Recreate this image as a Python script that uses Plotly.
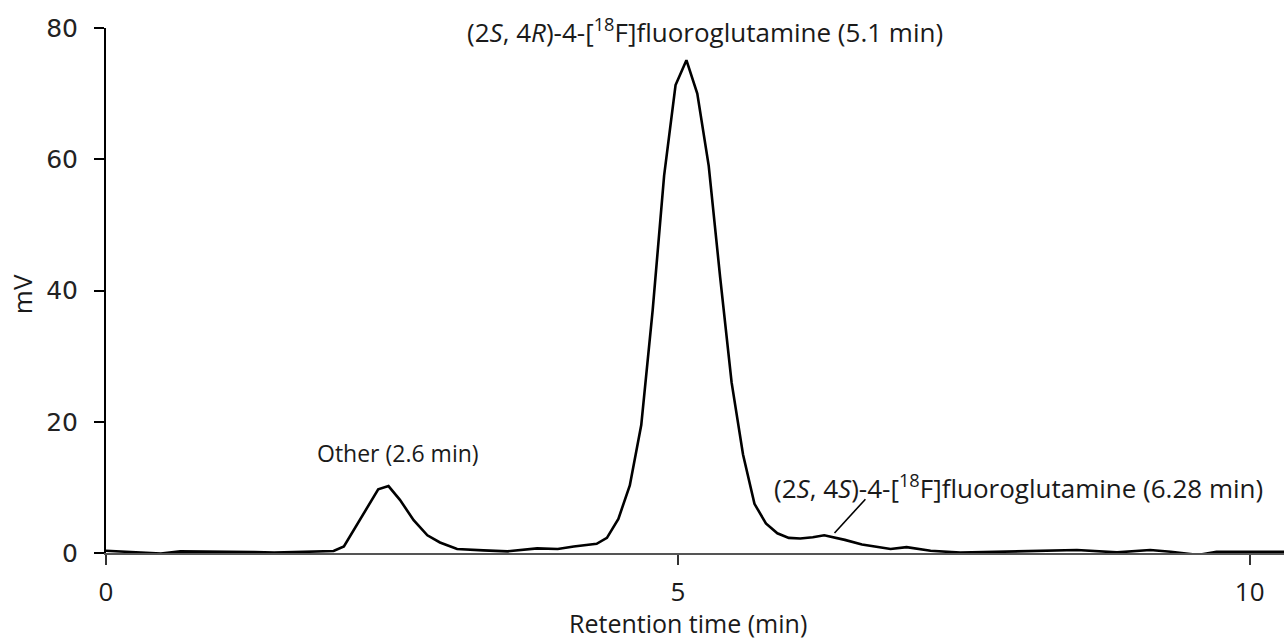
import plotly.graph_objects as go

# Retention time (min) and detector signal (mV)
time_min = [0.00, 0.20, 0.48, 0.65, 0.90, 1.12, 1.30, 1.47, 1.70, 1.85, 1.99,
            2.08, 2.22, 2.38, 2.47, 2.57, 2.69, 2.81, 2.92, 3.07, 3.30, 3.51,
            3.77, 3.95, 4.09, 4.29, 4.38, 4.48, 4.58, 4.68, 4.78, 4.88, 4.98,
            5.075, 5.17, 5.27, 5.37, 5.47, 5.57, 5.67, 5.77, 5.87, 5.97, 6.07,
            6.18, 6.28, 6.46, 6.61, 6.75, 6.86, 7.00, 7.21, 7.47, 7.82, 8.26,
            8.49, 8.84, 9.13, 9.31, 9.55, 9.71, 10.00, 10.30]
signal_mv = [0.35, 0.20, -0.10, 0.25, 0.20, 0.25, 0.15, 0.05, 0.15, 0.30, 0.30,
             1.00, 5.00, 9.70, 10.20, 8.10, 5.00, 2.70, 1.60, 0.60, 0.40, 0.25,
             0.70, 0.60, 1.00, 1.40, 2.30, 5.20, 10.30, 19.50, 37.00, 57.50, 71.30,
             75.10, 70.00, 59.00, 42.00, 26.00, 15.00, 7.50, 4.50, 3.00, 2.30, 2.20,
             2.40, 2.70, 2.00, 1.30, 0.90, 0.60, 0.90, 0.35, 0.05, 0.20, 0.35,
             0.45, 0.10, 0.45, 0.20, -0.30, 0.20, 0.20, 0.20]

x_ticks = [0, 5, 10]
y_ticks = [0, 20, 40, 60, 80]

label_main = "(2<i>S</i>, 4<i>R</i>)-4-[<sup>18</sup>F]fluoroglutamine (5.1 min)"
label_other = "Other (2.6 min)"
label_minor = "(2<i>S</i>, 4<i>S</i>)-4-[<sup>18</sup>F]fluoroglutamine (6.28 min)"

fig = go.Figure()
fig.add_trace(go.Scatter(x=time_min, y=signal_mv, mode="lines",
                         line=dict(color="#000000", width=2.6),
                         showlegend=False, hoverinfo="skip"))

ann_font = dict(family="Open Sans", size=26, color="#1a1a1a")
fig.add_annotation(x=5.24, y=79.6, text=label_main, showarrow=False,
                   xanchor="center", yanchor="middle", font=ann_font)
fig.add_annotation(x=2.557, y=15.2, text=label_other, showarrow=False,
                   xanchor="center", yanchor="middle",
                   font=dict(family="Open Sans", size=23, color="#1a1a1a"))
fig.add_annotation(x=7.98, y=10.1, text=label_minor, showarrow=False,
                   xanchor="center", yanchor="middle", font=ann_font)
# leader line to the minor peak
fig.add_shape(type="line", x0=6.37, y0=3.05, x1=6.64, y1=8.2,
              line=dict(color="#000000", width=1.6))

# axis titles
fig.add_annotation(xref="paper", yref="paper", x=0.494, y=-0.1333,
                   text="Retention time (min)", showarrow=False,
                   xanchor="center", yanchor="middle",
                   font=dict(family="Open Sans", size=25, color="#1a1a1a"))
fig.add_annotation(xref="paper", yref="paper", x=-0.0713, y=0.493,
                   text="mV", showarrow=False, textangle=-90,
                   xanchor="center", yanchor="middle",
                   font=dict(family="Open Sans", size=26, color="#1a1a1a"))

fig.update_xaxes(range=[0, 10.30], tickmode="array", tickvals=x_ticks,
                 ticktext=[str(v) for v in x_ticks],
                 showline=True, linecolor="#555555", linewidth=2,
                 ticks="outside", ticklen=10, tickwidth=1.5, tickcolor="#333333",
                 ticklabelstandoff=5,
                 tickfont=dict(family="Open Sans", size=26, color="#1a1a1a"),
                 showgrid=False, zeroline=False, fixedrange=True)
fig.update_yaxes(range=[0, 80], tickmode="array", tickvals=y_ticks,
                 ticktext=[str(v) for v in y_ticks],
                 showline=True, linecolor="#000000", linewidth=2,
                 ticks="outside", ticklen=10, tickwidth=1.5, tickcolor="#000000",
                 ticklabelstandoff=11,
                 tickfont=dict(family="DejaVu Sans", size=25, color="#222222"),
                 showgrid=False, zeroline=False, fixedrange=True)

fig.update_layout(width=1284, height=641,
                  margin=dict(l=106, r=0, t=28, b=88),
                  paper_bgcolor="white", plot_bgcolor="white")

fig.write_html("out.html")
